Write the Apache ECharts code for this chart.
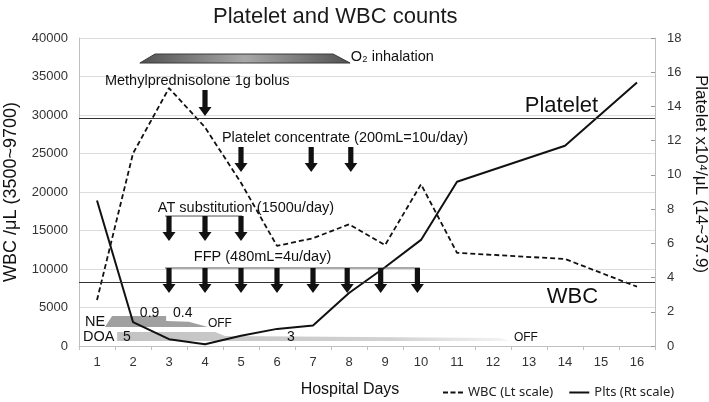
<!DOCTYPE html>
<html><head><meta charset="utf-8">
<script src="https://cdn.jsdelivr.net/npm/echarts@6/dist/echarts.min.js"></script>
<style>html,body{margin:0;padding:0;background:#fff}#c{width:709px;height:402px}</style>
</head><body><div id="c"></div>
<script>
// ---- data ----
const days = ['1','2','3','4','5','6','7','8','9','10','11','12','13','14','15','16'];
const wbc  = [5970, 25000, 33500, 28400, 21200, 13000, 14000, 15800, 13100, 21000, 12100, null, null, 11300, null, 7700];
const plts = [8.5, 1.4, 0.4, 0.1, 0.6, 1.0, 1.2, 3.1, 4.6, 6.2, 9.6, null, null, 11.7, null, 15.4];
const refLines = [29610, 8310];           // "Platelet" and "WBC" reference lines (left scale)

// annotation geometry in data units (day, left-scale value)
const o2Shape  = [[2.19,36750],[2.61,37920],[7.56,37920],[8.03,36750]];
const neShape  = [[1.22,2470],[1.42,3900],[2.92,3900],[2.92,3250],[3.55,3150],[4.08,2470]];
const doaShape = [[1.56,650],[1.56,1820],[4.28,1820],[4.56,1300],[12.19,1040],[12.47,650]];
const atBar  = [[2.89,16880],[5.03,16880]];
const ffpBar = [[2.89,10130],[9.97,10130]];
const arrows = [
  [4,33250,29870],
  [5,25840,22600],[6.95,25840,22600],[8.05,25840,22600],
  [3,16880,13640],[4,16880,13640],[5,16880,13640],
  [3,10130,6880],[4,10130,6880],[5,10130,6880],[6,10130,6880],[7,10130,6880],[7.95,10130,6880],[8.88,10130,6880],[9.9,10130,6880]
];
const noteText = ['O₂ inhalation','Methylprednisolone 1g bolus','Platelet concentrate (200mL=10u/day)',
  'AT substitution (1500u/day)','FFP (480mL=4u/day)','NE','0.9','0.4','OFF','DOA','5','3','OFF','Platelet','WBC'];
const notePos = [[8.05,37530],[1.22,34420],[4.47,27000],[2.69,17920],[3.69,11560],[0.67,3120],[2.19,4290],[3.11,4290],
  [4.08,2860],[0.61,1170],[1.72,1170],[6.28,1170],[12.58,1040],[14.92,31170],[14.92,6360]];
const noteKind = ['n','n','n','n','n','n','s','s','o','n','s','s','o','b','b'];

// ---- styles ----
const FF = '"Liberation Sans", Arial, Helvetica, sans-serif';
const kindStyle = {n:{size:14.5,align:'left'}, s:{size:14,align:'left'}, o:{size:12,align:'left'}, b:{size:22,align:'right'}};

const chart = echarts.init(document.getElementById('c'), null, {renderer:'canvas'});

function poly(api, pts){ return pts.map(p => api.coord(p)); }

const option = {
  animation:false,
  backgroundColor:'#fff',
  title:{text:'Platelet and WBC counts', left:208, top:1,
    textStyle:{fontFamily:FF, fontSize:22, fontWeight:'normal', color:'#1a1a1a'}},
  grid:{left:79, right:54, top:38, bottom:56, containLabel:false, outerBoundsMode:'none'},
  legend:{left:438, top:381, itemWidth:20, itemHeight:2, itemGap:16,
    textStyle:{fontFamily:'"Noto Sans", sans-serif', fontSize:13, color:'#222'},
    data:[
      {name:'WBC (Lt scale)', icon:'path://M0,0h5v2h-5z M7.5,0h5v2h-5z M15,0h5v2h-5z'},
      {name:'Plts (Rt scale)', icon:'path://M0,0h20v2h-20z'}
    ]},
  xAxis:[
    {type:'category', data:days, boundaryGap:true,
     axisLine:{lineStyle:{color:'#c0c0c0'}},
     axisTick:{show:true, length:4, lineStyle:{color:'#c0c0c0'}},
     axisLabel:{fontFamily:FF, fontSize:13, color:'#333', margin:10},
     name:'Hospital Days', nameLocation:'middle', nameGap:36,
     nameTextStyle:{fontFamily:FF, fontSize:16, color:'#111', padding:[0,34,0,0]}},
    {type:'value', min:0.5, max:16.5, show:false}
  ],
  yAxis:[
    {type:'value', min:0, max:40000, interval:5000, position:'left',
     axisLine:{show:true, lineStyle:{color:'#c0c0c0'}}, axisTick:{show:false},
     splitLine:{lineStyle:{color:'#dcdcdc'}},
     axisLabel:{fontFamily:FF, fontSize:13, color:'#333', margin:11, formatter:v => String(v)},
     name:'WBC /μL (3500~9700)', nameLocation:'middle', nameRotate:90, nameGap:59,
     nameTextStyle:{fontFamily:FF, fontSize:18, color:'#111'}},
    {type:'value', min:0, max:18, interval:2, position:'right',
     axisLine:{show:true, lineStyle:{color:'#c0c0c0'}},
     axisTick:{show:true, inside:true, length:4, lineStyle:{color:'#999'}},
     splitLine:{show:false},
     axisLabel:{fontFamily:FF, fontSize:13, color:'#333', margin:12, formatter:v => String(v)},
     name:'Platelet x10⁴/μL (14~37.9)', nameLocation:'middle', nameRotate:-90, nameGap:36,
     nameTextStyle:{fontFamily:FF, fontSize:17, color:'#111', padding:[0,36,0,0]}}
  ],
  series:[
    {type:'custom', name:'shapes', xAxisIndex:1, yAxisIndex:0, z:2, silent:true, data:[[1,1]],
     renderItem:function(params, api){
       return {type:'group', children:[
         {type:'polygon', shape:{points:poly(api,o2Shape)},
          style:{fill:{type:'linear',x:0,y:0,x2:1,y2:0,colorStops:[
            {offset:0,color:'#505050'},{offset:0.5,color:'#a8a8a8'},{offset:1,color:'#505050'}]},
            stroke:'#3a3a3a', lineWidth:1}},
         {type:'polygon', shape:{points:poly(api,doaShape)},
          style:{fill:{type:'linear',x:0,y:0,x2:1,y2:0,colorStops:[
            {offset:0,color:'#c2c2c2'},{offset:0.7,color:'#d2d2d2'},{offset:1,color:'#f4f4f4'}]}}},
         {type:'polygon', shape:{points:poly(api,neShape)}, style:{fill:'#a0a0a0'}}
       ]};
     }},
    {type:'line', name:'WBC (Lt scale)', xAxisIndex:0, yAxisIndex:0, data:wbc, connectNulls:true,
     symbol:'none', z:3, lineStyle:{color:'#111', width:1.8, type:[5,3]}, itemStyle:{color:'#111'},
     markLine:{silent:true, symbol:['none','none'], label:{show:false},
       lineStyle:{color:'#333', width:1, type:'solid'},
       data:refLines.map(v => ({yAxis:v}))}},
    {type:'line', name:'Plts (Rt scale)', xAxisIndex:0, yAxisIndex:1, data:plts, connectNulls:true,
     symbol:'none', z:3, lineStyle:{color:'#111', width:2}, itemStyle:{color:'#111'}},
    {type:'custom', name:'bars', xAxisIndex:1, yAxisIndex:0, z:4, silent:true, data:[[1,1]],
     renderItem:function(params, api){
       return {type:'group', children:[atBar, ffpBar].map(b => {
         const a = api.coord(b[0]), c = api.coord(b[1]);
         return {type:'line', shape:{x1:a[0],y1:a[1],x2:c[0],y2:c[1]}, style:{stroke:'#555', lineWidth:1}};
       })};
     }},
    {type:'custom', name:'arrows', xAxisIndex:1, yAxisIndex:0, z:5, silent:true, data:arrows,
     renderItem:function(params, api){
       const p1 = api.coord([api.value(0), api.value(1)]);
       const p2 = api.coord([api.value(0), api.value(2)]);
       const cx = p1[0], y1 = p1[1], y2 = p2[1];
       const hw = 6.5, sw = 2.6, hh = 9;
       return {type:'polygon', shape:{points:[[cx-sw,y1],[cx+sw,y1],[cx+sw,y2-hh],[cx+hw,y2-hh],[cx,y2],[cx-hw,y2-hh],[cx-sw,y2-hh]]},
               style:{fill:'#111'}};
     }},
    {type:'custom', name:'notes', xAxisIndex:1, yAxisIndex:0, z:6, silent:true, data:[[1,1]],
     renderItem:function(params, api){
       return {type:'group', children:noteText.map((t,i) => {
         const p = api.coord(notePos[i]);
         const k = kindStyle[noteKind[i]];
         return {type:'text', x:p[0], y:p[1],
           style:{text:t, fill:'#111', font:k.size+'px '+FF, align:k.align, verticalAlign:'middle'}};
       })};
     }}
  ]
};
chart.setOption(option);
</script>
</body></html>
